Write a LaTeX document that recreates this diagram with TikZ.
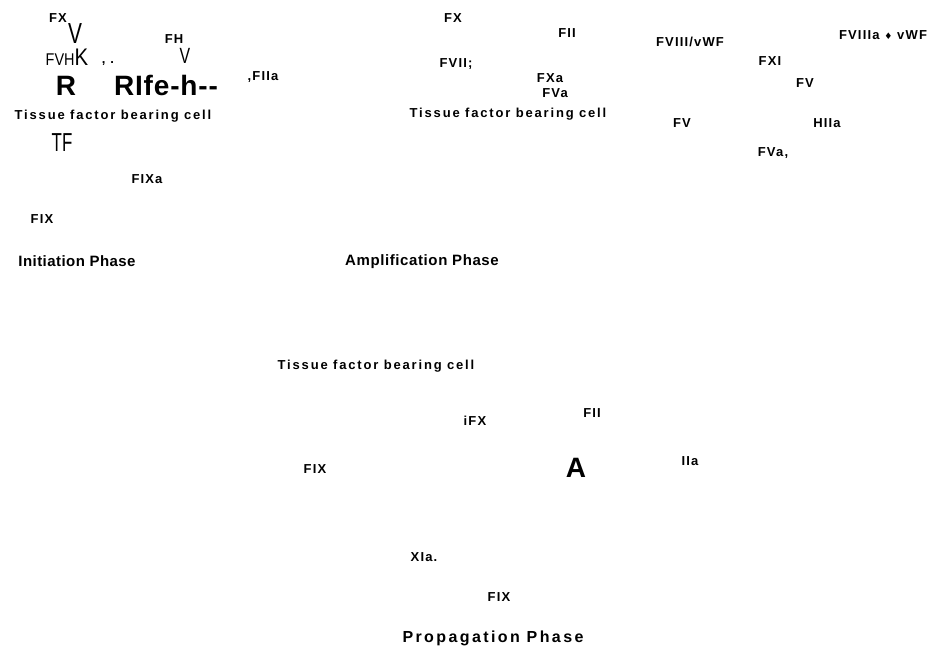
\documentclass[tikz,border=0pt]{standalone}
\usepackage{fontspec}
\setmainfont{Liberation Sans}
\newfontfamily\dvfont{DejaVu Sans}
\tikzset{
  every node/.style={inner sep=0pt, outer sep=0pt, anchor=base},
  lbl/.style={font=\fontsize{13}{13}\selectfont\bfseries\addfontfeature{LetterSpace=9}},
  tfc/.style={font=\fontsize{13}{13}\selectfont\bfseries\addfontfeature{LetterSpace=14}},
  phase/.style={font=\fontsize{15}{15}\selectfont\bfseries\addfontfeature{LetterSpace=#1}},
  big/.style={font=\fontsize{28}{28}\selectfont\bfseries\addfontfeature{LetterSpace=3}},
  thin/.style={font=\fontsize{#1}{#1}\selectfont},
}
\begin{document}
\begin{tikzpicture}[x=1pt,y=-1pt]
\useasboundingbox (0,0) rectangle (934,648);
% Initiation phase
\node[lbl] (ifx) at (58,22) {FX};
\node[thin=29, xscale=0.72] (iv1) at (75,43) {V};
\node[xscale=0.85] (ifvhk) at (67,65) {{\fontsize{17}{17}\selectfont FVH}{\fontsize{24}{24}\selectfont K}};
\node[lbl] (icomma) at (108,63) {, .};
\node[lbl] (ifh) at (174,43) {FH};
\node[thin=22, xscale=0.72] (iv2) at (185,63) {V};
\node[big] (ir) at (66,95) {R};
\node[big] (irife) at (166,95) {RIfe-h-{}-};
\node[lbl] (ifiia) at (263,80) {,FIIa};
\node[tfc] (itfc) at (113,119) {Tissue factor bearing cell};
\node[thin=26, xscale=0.65] (itf) at (62,151) {TF};
\node[lbl] (ifixa) at (147,183) {FIXa};
\node[lbl] (ifix) at (42,223) {FIX};
\node[phase=3] (iphase) at (77,266) {Initiation Phase};
% Amplification phase
\node[lbl] (afx) at (453,22) {FX};
\node[lbl] (afii) at (567,37) {FII};
\node[lbl] (afvii) at (456,67) {FVII;};
\node[lbl] (afxa) at (550,82) {FXa};
\node[lbl] (afva) at (555,97) {FVa};
\node[tfc] (atfc) at (508,117) {Tissue factor bearing cell};
\node[lbl] (afviii) at (690,46) {FVIII/vWF};
\node[lbl] (afviiia) at (883,39) {FVIIIa {\dvfont\fontsize{9}{9}\selectfont ♦} vWF};
\node[lbl] (afxi) at (770,65) {FXI};
\node[lbl] (afv1) at (805,87) {FV};
\node[lbl] (afv2) at (682,127) {FV};
\node[lbl] (ahiia) at (827,127) {HIIa};
\node[lbl] (afva2) at (773,156) {FVa,};
\node[phase=4] (aphase) at (422,265) {Amplification Phase};
% Propagation phase
\node[tfc] (ptfc) at (376,369) {Tissue factor bearing cell};
\node[lbl] (pifx) at (475,425) {iFX};
\node[lbl] (pfii) at (592,417) {FII};
\node[lbl] (pfix1) at (315,473) {FIX};
\node[big] (pa) at (576,477) {A};
\node[lbl] (piia) at (690,465) {IIa};
\node[lbl] (pxia) at (424,561) {XIa.};
\node[lbl] (pfix2) at (499,601) {FIX};
\node[font=\fontsize{16}{16}\selectfont\bfseries\addfontfeature{LetterSpace=15}] (pphase) at (493,642) {Propagation Phase};
\end{tikzpicture}
\end{document}
